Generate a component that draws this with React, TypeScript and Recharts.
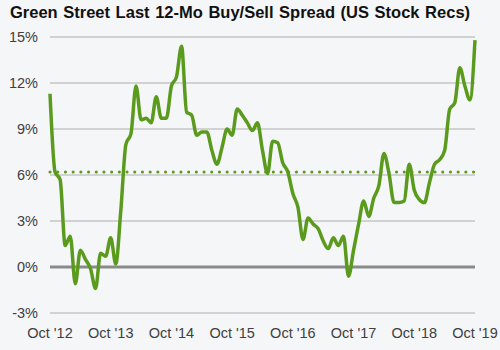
import React from 'react';
import {
  LineChart,
  Line,
  XAxis,
  YAxis,
  CartesianGrid,
  ReferenceLine
} from 'recharts';

// monthly, Oct '12 .. Oct '19
const spreadValues = [
  11.3, 6.2, 5.7, 1.4, 2.0, -1.1, 1.1, 0.5, -0.1, -1.4, 0.9, 0.7,
  1.9, 0.2, 3.7, 8.0, 8.7, 11.8, 9.6, 9.7, 9.4, 11.1, 9.7, 9.7,
  11.8, 12.4, 14.4, 10.1, 9.9, 8.6, 8.8, 8.8, 7.6, 6.7, 7.8, 9.0,
  8.6, 10.3, 9.9, 9.4, 8.9, 9.4, 7.6, 6.1, 8.2, 8.1, 6.8, 6.2,
  4.8, 3.9, 1.8, 3.2, 2.8, 2.5, 1.7, 1.2, 1.9, 1.4, 2.0, -0.6,
  1.1, 2.8, 4.3, 3.3, 4.5, 5.3, 7.4, 6.1, 4.2, 4.2, 4.3, 6.7,
  5.0, 4.4, 4.2, 5.5, 6.7, 7.0, 7.6, 10.3, 10.7, 13.0, 11.8, 10.9,
  14.8
];

const monthNames = ['Oct', 'Nov', 'Dec', 'Jan', 'Feb', 'Mar', 'Apr', 'May', 'Jun', 'Jul', 'Aug', 'Sep'];
const startYear = 2012;
const yTicks = [-3, 0, 3, 6, 9, 12, 15];
const averageSpread = 6.2;

const chartData = spreadValues.map((v, i) => {
  const yr = startYear + Math.floor((i + 9) / 12);
  return {
    month: `${monthNames[i % 12]} '${String(yr).slice(2)}`,
    value: v
  };
});

const GREEN = '#5a9b1e';
const tickStyle = { fill: '#404040', fontSize: 14.5, fontFamily: '"Liberation Sans", Arial, sans-serif' };

export default function App() {
  return (
    <div style={{ position: 'absolute', left: 0, top: 0, width: 500, height: 350, background: '#f5f6f8', overflow: 'hidden' }}>
      <div style={{
        position: 'absolute',
        left: 10,
        top: 3,
        fontFamily: '"Liberation Sans", Arial, sans-serif',
        fontWeight: 'bold',
        fontSize: 16.5,
        wordSpacing: 1,
        color: '#111',
        whiteSpace: 'nowrap'
      }}>
        Green Street Last 12-Mo Buy/Sell Spread (US Stock Recs)
      </div>
      <LineChart
        width={500}
        height={350}
        data={chartData}
        margin={{ top: 37, right: 25, left: 0, bottom: 7 }}
      >
        <CartesianGrid vertical={false} stroke="#c6c6c6" strokeWidth={1.5} />
        <XAxis
          dataKey="month"
          height={30}
          interval={11}
          axisLine={false}
          tickLine={false}
          tick={tickStyle}
          tickMargin={9}
        />
        <YAxis
          width={50}
          domain={[-3, 15]}
          ticks={yTicks}
          axisLine={false}
          tickLine={false}
          tick={tickStyle}
          tickMargin={6}
          tickFormatter={(v) => `${v}%`}
        />
        <ReferenceLine y={0} stroke="#8a8a8a" strokeWidth={3} />
        <ReferenceLine
          y={averageSpread}
          stroke={GREEN}
          strokeWidth={3}
          strokeDasharray="0.1 7.6"
          strokeLinecap="round"
        />
        <Line
          type="monotone"
          dataKey="value"
          stroke={GREEN}
          strokeWidth={3.5}
          dot={false}
          isAnimationActive={false}
        />
      </LineChart>
    </div>
  );
}
